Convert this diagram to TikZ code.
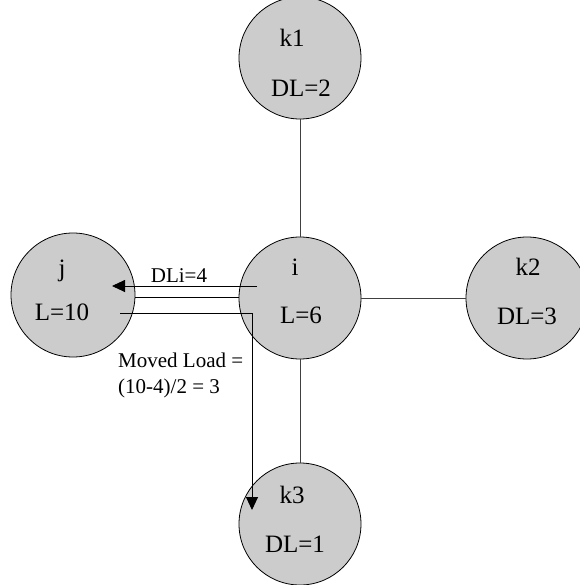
\documentclass[tikz,border=0pt]{standalone}
\usepackage{fontspec}
\setmainfont{Liberation Serif}
\usetikzlibrary{arrows.meta}
\tikzset{
  ball/.style={circle, draw=black, line width=0.8pt, fill=black!20, inner sep=0pt, minimum size=122pt},
  big/.style={font=\fontsize{25}{30}\selectfont, inner sep=0pt, anchor=base},
  small/.style={font=\fontsize{21}{26}\selectfont, inner sep=0pt},
  link/.style={draw=black!75, line width=0.8pt},
  flow/.style={draw=black, line width=0.9pt},
  tip/.style={-{Triangle[length=13pt,width=12pt]}}
}
\begin{document}
\begin{tikzpicture}[x=1pt,y=-1pt]
\useasboundingbox (0,0) rectangle (579,585);
% connectors between balls (drawn first, behind)
\node[ball] (k1) at (300,58) {};
\node[ball] (i) at (300,298) {};
\node[ball, minimum size=124pt] (j) at (73,295) {};
\node[ball] (k2) at (527,298) {};
\node[ball] (k3) at (300,524) {};
\draw[link] (k1) -- (i);
\draw[link] (i) -- (k2);
\draw[link] (i) -- (k3);
% texts
\node[big] (tk1) at (292,47) {k1};
\node[big] (tdl2) at (301,97) {DL=2};
\node[big] (tj) at (62,276) {j};
\node[big] (tl10) at (62,320) {L=10};
\node[big] (ti) at (295,275) {i};
\node[big] (tl6) at (301,323) {L=6};
\node[big] (tk2) at (528,275) {k2};
\node[big] (tdl3) at (527,324) {DL=3};
\node[big] (tk3) at (292,503) {k3};
\node[big] (tdl1) at (295,552) {DL=1};
% flows
\coordinate (a1) at (257,286);
\coordinate (a2) at (112,286);
\coordinate (b1) at (135,297);
\coordinate (b2) at (239,297);
\coordinate (c1) at (120,313);
\coordinate (c2) at (252,313);
\coordinate (c3) at (252,510);
\draw[flow, tip] (a1) -- (a2);
\draw[flow] (b1) -- (b2);
\draw[flow, tip] (c1) -- (c2) -- (c3);
\node[small, anchor=base] (dli) at (179,282) {DLi=4};
\node[small, anchor=base west] (mv1) at (118,367) {Moved Load =};
\node[small, anchor=base west] (mv2) at (118,393) {(10-4)/2 = 3};
\end{tikzpicture}
\end{document}
